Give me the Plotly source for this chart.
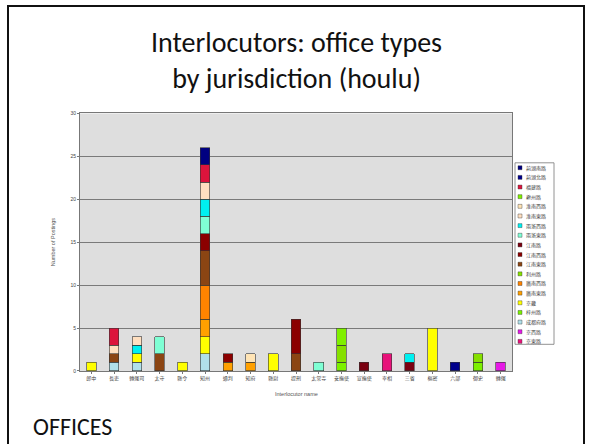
import plotly.graph_objects as go

W, H = 592, 444

categories = ["郎中", "長吏", "轉運司", "太守", "縣令", "知州", "通判", "知府", "縣尉", "提刑",
              "太常寺", "安撫使", "宣撫使", "宰相", "三省", "樞密", "六部", "御史", "轉運"]

# series in stacking order (bottom -> top); legend shows them top -> bottom
series_names = ["京東路", "京西路", "成都府路", "梓州路", "京畿", "廣南東路", "廣南西路", "利州路",
                "江南東路", "江南西路", "江南路", "兩浙東路", "兩浙西路", "淮南東路", "淮南西路",
                "夔州路", "福建路", "荊湖北路", "荊湖南路"]
series_colors = ["#E8127A", "#E619E6", "#B0E0EA", "#7CF000", "#FFFF00", "#FFA000", "#FF8400", "#86E000",
                 "#8B4513", "#8B0000", "#7A0010", "#7FFFD4", "#00F0F0", "#FFDFC0", "#FFE4B5",
                 "#80F000", "#DC143C", "#00008B", "#000080"]

v_jingdong   = [0, 0, 0, 0, 0, 0, 0, 0, 0, 0, 0, 0, 0, 2, 0, 0, 0, 0, 0]
v_jingxi     = [0, 0, 0, 0, 0, 0, 0, 0, 0, 0, 0, 0, 0, 0, 0, 0, 0, 0, 1]
v_chengdu    = [0, 1, 1, 0, 0, 2, 0, 0, 0, 0, 0, 0, 0, 0, 0, 0, 0, 0, 0]
v_zizhou     = [0, 0, 0, 0, 0, 0, 0, 0, 0, 0, 0, 1, 0, 0, 0, 0, 0, 1, 0]
v_jingji     = [1, 0, 1, 0, 1, 2, 0, 0, 2, 0, 0, 0, 0, 0, 0, 5, 0, 0, 0]
v_guangdong  = [0, 0, 0, 0, 0, 2, 1, 1, 0, 0, 0, 0, 0, 0, 0, 0, 0, 0, 0]
v_guangxi    = [0, 0, 0, 0, 0, 4, 0, 0, 0, 0, 0, 0, 0, 0, 0, 0, 0, 0, 0]
v_lizhou     = [0, 0, 0, 0, 0, 0, 0, 0, 0, 0, 0, 2, 0, 0, 0, 0, 0, 1, 0]
v_jiangdong  = [0, 1, 0, 2, 0, 4, 0, 0, 0, 2, 0, 0, 0, 0, 0, 0, 0, 0, 0]
v_jiangxi    = [0, 0, 0, 0, 0, 2, 1, 0, 0, 4, 0, 0, 0, 0, 0, 0, 0, 0, 0]
v_jiangnan   = [0, 0, 0, 0, 0, 0, 0, 0, 0, 0, 0, 0, 1, 0, 1, 0, 0, 0, 0]
v_liangzhedong = [0, 0, 0, 2, 0, 2, 0, 0, 0, 0, 1, 0, 0, 0, 0, 0, 0, 0, 0]
v_liangzhexi = [0, 0, 1, 0, 0, 2, 0, 0, 0, 0, 0, 0, 0, 0, 1, 0, 0, 0, 0]
v_huaidong   = [0, 1, 1, 0, 0, 2, 0, 0, 0, 0, 0, 0, 0, 0, 0, 0, 0, 0, 0]
v_huaixi     = [0, 0, 0, 0, 0, 0, 0, 1, 0, 0, 0, 0, 0, 0, 0, 0, 0, 0, 0]
v_kuizhou    = [0, 0, 0, 0, 0, 0, 0, 0, 0, 0, 0, 2, 0, 0, 0, 0, 0, 0, 0]
v_fujian     = [0, 2, 0, 0, 0, 2, 0, 0, 0, 0, 0, 0, 0, 0, 0, 0, 0, 0, 0]
v_jinghubei  = [0, 0, 0, 0, 0, 0, 0, 0, 0, 0, 0, 0, 0, 0, 0, 0, 1, 0, 0]
v_jinghunan  = [0, 0, 0, 0, 0, 2, 0, 0, 0, 0, 0, 0, 0, 0, 0, 0, 0, 0, 0]

series_values = [v_jingdong, v_jingxi, v_chengdu, v_zizhou, v_jingji, v_guangdong, v_guangxi, v_lizhou,
                 v_jiangdong, v_jiangxi, v_jiangnan, v_liangzhedong, v_liangzhexi, v_huaidong, v_huaixi,
                 v_kuizhou, v_fujian, v_jinghubei, v_jinghunan]

y_ticks = [0, 5, 10, 15, 20, 25, 30]

title_text = "Interlocutors: office types<br>by jurisdiction (houlu)"
y_title = "Number of Postings"
x_title = "Interlocutor name"
footer = "OFFICES"


def px(x):
    return x / W


def py(y):
    return 1 - y / H


fig = go.Figure()
for name, color, vals in zip(series_names, series_colors, series_values):
    fig.add_trace(go.Bar(
        x=categories, y=[v if v else None for v in vals], name=name,
        marker=dict(color=color, line=dict(color="#333333", width=0.6)),
        width=0.42, showlegend=False,
    ))

# plot area geometry (pixels)
PL, PR, PT, PB = 80, 512, 112, 373

fig.update_layout(
    width=W, height=H, margin=dict(l=0, r=0, t=0, b=0),
    paper_bgcolor="white", plot_bgcolor="#DEDEDE",
    barmode="stack", showlegend=False,
    font=dict(family="Liberation Sans, Arial", color="#333333"),
    xaxis=dict(domain=[px(PL), px(PR)], anchor="y", showline=True, linecolor="#777777", linewidth=1,
               mirror=True, ticks="outside", ticklen=2, tickcolor="#777777",
               tickfont=dict(size=5, family="Noto Sans CJK TC", color="#444444"), showgrid=False),
    yaxis=dict(domain=[py(PB), py(PT)], anchor="x", range=[0, 30], tickvals=y_ticks,
               showline=True, linecolor="#777777", linewidth=1, mirror=True,
               ticks="outside", ticklen=2, tickcolor="#777777",
               tickfont=dict(size=5, color="#444444"),
               gridcolor="#7A7A7A", gridwidth=1.2, zeroline=False),
)

annotations = [
    dict(text=title_text, x=px(296), y=py(58), xref="paper", yref="paper", showarrow=False,
         font=dict(family="Carlito, Lato", size=28, color="#111111"), align="center",
         xanchor="center", yanchor="middle"),
    dict(text=y_title, x=px(53), y=py((PT + PB) / 2), xref="paper", yref="paper", showarrow=False,
         textangle=-90, font=dict(size=5.5, color="#555555"), xanchor="center", yanchor="middle"),
    dict(text=x_title, x=px((PL + PR) / 2), y=py(396), xref="paper", yref="paper", showarrow=False,
         font=dict(size=5.5, color="#555555"), xanchor="center", yanchor="middle"),
    dict(text=footer, x=px(31), y=py(429), xref="paper", yref="paper", showarrow=False,
         font=dict(family="Carlito, Lato", size=24, color="#111111"), xanchor="left", yanchor="middle"),
]

shapes = [
    dict(type="rect", xref="paper", yref="paper", x0=px(8), x1=px(584), y0=py(470), y1=py(3),
         line=dict(color="#111111", width=2), fillcolor="rgba(0,0,0,0)"),
]

# manual legend (top entry = last stacked series)
LX0, LX1, LY0, LY1 = 515, 554, 162, 346
shapes.append(dict(type="rect", xref="paper", yref="paper", x0=px(LX0), x1=px(LX1), y0=py(LY1), y1=py(LY0),
                   line=dict(color="#777777", width=0.8), fillcolor="white"))
n = len(series_names)
step = (LY1 - LY0 - 8) / (n - 1) if n > 1 else 0
for i, (name, color) in enumerate(zip(reversed(series_names), reversed(series_colors))):
    yc = LY0 + 5 + i * step
    shapes.append(dict(type="rect", xref="paper", yref="paper", x0=px(518), x1=px(522),
                       y0=py(yc + 2), y1=py(yc - 2), fillcolor=color, line=dict(color="#333333", width=0.4)))
    annotations.append(dict(text=name, x=px(524), y=py(yc), xref="paper", yref="paper", showarrow=False,
                            xanchor="left", yanchor="middle",
                            font=dict(size=5, family="Noto Sans CJK TC", color="#444444")))

fig.update_layout(annotations=annotations, shapes=shapes)
fig.write_html("out.html", config={"displayModeBar": False},
               post_script="document.body.style.margin='0px';document.body.style.overflow='hidden';")
